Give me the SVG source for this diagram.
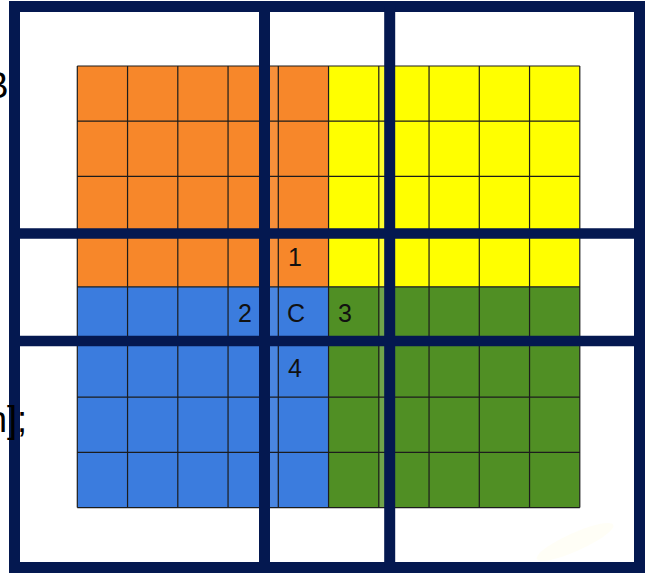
<svg xmlns="http://www.w3.org/2000/svg" width="648" height="576" viewBox="0 0 648 576">
  <style>
    .grid { fill: none; stroke: #1c1c1c; stroke-width: 1.2; }
    .navy { fill: none; stroke: #041850; stroke-width: 11; }
    .lbl { font-family: "Liberation Sans", Arial, sans-serif; font-size: 25px; fill: #111; text-anchor: middle; }
    .side { font-family: "Liberation Sans", Arial, sans-serif; font-size: 36px; fill: #000; text-anchor: end; }
  </style>
  <rect width="648" height="576" fill="#ffffff"/>
  <ellipse cx="575" cy="542" rx="42" ry="9" transform="rotate(-24 575 542)" fill="#fffdf0" opacity="0.6"/>
  <g id="quadrants">
    <rect id="orange" x="77.3" y="66" width="251.2" height="220.8" fill="#f7872a"/>
    <rect id="yellow" x="328.5" y="66" width="251.3" height="220.8" fill="#ffff00"/>
    <rect id="blue" x="77.3" y="286.8" width="251.2" height="220.8" fill="#3b7cde"/>
    <rect id="green" x="328.5" y="286.8" width="251.3" height="220.8" fill="#508f24"/>
    <rect x="270" y="66" width="7.5" height="441.6" fill="#ffffff" opacity="0.08"/>
    <rect x="379.3" y="66" width="5.5" height="441.6" fill="#ffffff" opacity="0.18"/>
  </g>
  <g id="grid">
    <path class="grid" d="M77.3 66V507.6M127.55 66V507.6M177.8 66V507.6M228.05 66V507.6M278.3 66V507.6M328.55 66V507.6M378.8 66V507.6M429.05 66V507.6M479.3 66V507.6M529.55 66V507.6M579.8 66V507.6
      M77.3 66H579.8M77.3 121.2H579.8M77.3 176.4H579.8M77.3 231.6H579.8M77.3 286.8H579.8M77.3 342H579.8M77.3 397.2H579.8M77.3 452.4H579.8M77.3 507.6H579.8"/>
  </g>
  <g id="frame">
    <rect class="navy" x="14.5" y="6.5" width="625" height="561"/>
    <path class="navy" d="M264.5 6.5V567.5M389.7 6.5V567.5"/>
    <path class="navy" d="M14.5 233.6H639.5M14.5 340.9H639.5" style="stroke-width:10.5"/>
  </g>
  <g id="labels">
    <text class="lbl" x="295" y="266">1</text>
    <text class="lbl" x="245" y="322">2</text>
    <text class="lbl" x="296" y="322">C</text>
    <text class="lbl" x="345" y="322">3</text>
    <text class="lbl" x="295" y="377">4</text>
  </g>
  <g id="side-text">
    <text class="side" x="8.5" y="98">B</text>
    <text class="side" x="27" y="432">n];</text>
  </g>
</svg>
